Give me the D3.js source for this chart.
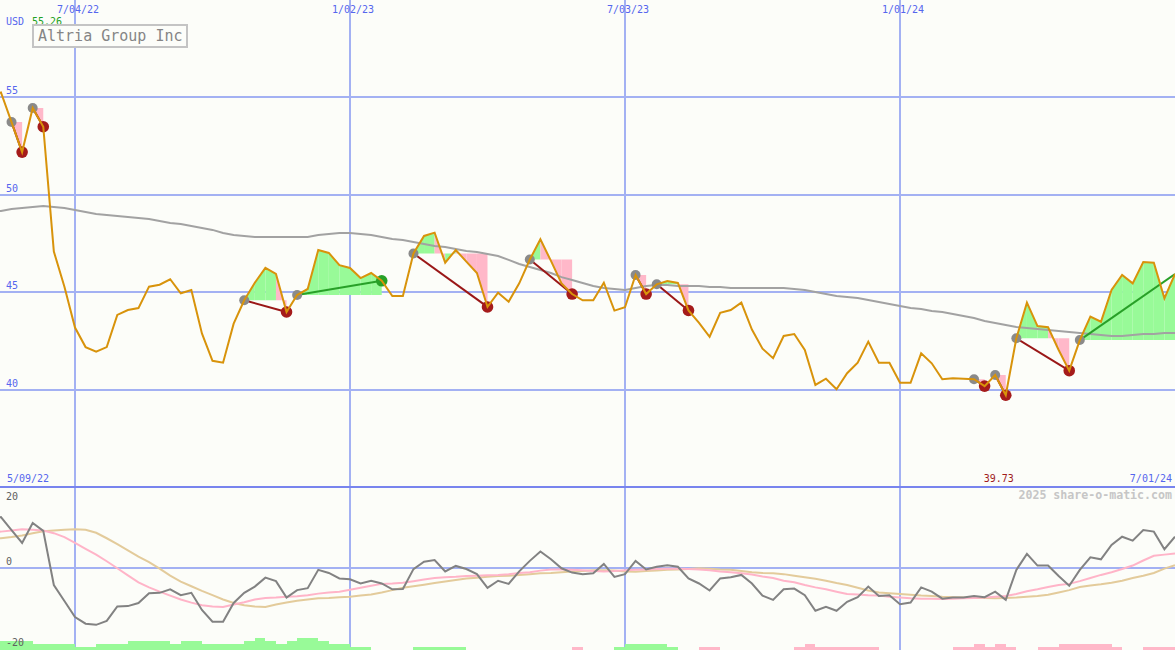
<!DOCTYPE html>
<html><head><meta charset="utf-8">
<script src="https://cdn.jsdelivr.net/npm/d3@7"></script>
<style>html,body{margin:0;padding:0;background:#fcfdf9;overflow:hidden}svg{display:block}</style>
</head><body><svg id="c" width="1175" height="650"></svg>
<script>
// ---------- data ----------
const startDate = "2022-05-09", endDate = "2024-07-01";   // weekly (Mondays)
const gridDates  = ["2022-07-04", "2023-01-02", "2023-07-03", "2024-01-01"];
const gridLabels = ["7/04/22", "1/02/23", "7/03/23", "1/01/24"];
const priceTicks = [55, 50, 45, 40];
const oscTicks   = [20, 0, -20];
const company = "Altria Group Inc";
const currency = "USD";
const copyright = "2025 share-o-matic.com";

const price = [
  55.1, 55.26, 53.74, 52.2, 54.46, 53.5, 47.1, 45.3, 43.2, 42.2,
  41.96, 42.2, 43.85, 44.1, 44.2, 45.3, 45.4, 45.68, 44.96, 45.13,
  42.9, 41.5, 41.4, 43.4, 44.6, 45.5, 46.26, 45.95, 44.0, 44.87,
  45.18, 47.18, 47.03, 46.4, 46.26, 45.74, 46.0, 45.6, 44.82, 44.82,
  47.0, 47.9, 48.07, 46.53, 47.18, 46.58, 46.0, 44.26, 44.99, 44.53,
  45.47, 46.69, 47.73, 46.62, 45.47, 44.92, 44.6, 44.6, 45.5, 44.07,
  44.24, 45.9, 44.92, 45.42, 45.59, 45.49, 44.08, 43.44, 42.73, 43.96,
  44.1, 44.48, 43.1, 42.12, 41.63, 42.77, 42.87, 42.05, 40.26, 40.58,
  40.04, 40.86, 41.4, 42.48, 41.4, 41.4, 40.37, 40.37, 41.88, 41.37,
  40.55, 40.6, 40.58, 40.55, 40.2, 40.77, 39.73, 42.65, 44.48, 43.28,
  43.22, 42.05, 40.99, 42.56, 43.76, 43.5, 45.13, 45.9, 45.47, 46.56,
  46.53, 44.7, 45.95
];
const movingAvg = [
  49.13, 49.18, 49.28, 49.33, 49.38, 49.44, 49.38, 49.33, 49.23, 49.13,
  49.03, 48.97, 48.92, 48.87, 48.82, 48.77, 48.67, 48.56, 48.51, 48.41,
  48.31, 48.21, 48.05, 47.95, 47.9, 47.85, 47.85, 47.85, 47.85, 47.85,
  47.85, 47.95, 48.0, 48.05, 48.05, 48.0, 47.95, 47.85, 47.74, 47.69,
  47.59, 47.49, 47.38, 47.33, 47.23, 47.13, 47.08, 46.97, 46.87, 46.67,
  46.46, 46.31, 46.15, 46.0, 45.79, 45.64, 45.49, 45.33, 45.23, 45.18,
  45.13, 45.23, 45.33, 45.38, 45.38, 45.33, 45.33, 45.33, 45.28, 45.28,
  45.23, 45.23, 45.23, 45.23, 45.23, 45.23, 45.18, 45.13, 45.03, 44.92,
  44.82, 44.77, 44.72, 44.62, 44.51, 44.41, 44.31, 44.21, 44.15, 44.05,
  44.0, 43.9, 43.79, 43.69, 43.54, 43.44, 43.33, 43.23, 43.18, 43.13,
  43.08, 43.03, 42.97, 42.92, 42.87, 42.82, 42.77, 42.77, 42.82, 42.87,
  42.87, 42.92, 42.92
];
const oscFast = [
  12.5, 12.9, 9.6, 6.3, 11.4, 9.4, -4.5, -8.6, -12.7, -14.4,
  -14.7, -13.7, -10.0, -9.9, -9.1, -6.6, -6.5, -5.6, -7.1, -6.5,
  -10.9, -13.9, -13.9, -9.1, -6.5, -4.9, -2.6, -3.5, -7.7, -5.8,
  -5.3, -0.6, -1.4, -2.8, -3.0, -4.1, -3.4, -4.1, -5.6, -5.5,
  -0.4, 1.5, 1.9, -1.0, 0.4, -0.4, -1.7, -5.2, -3.4, -4.2,
  -1.0, 1.7, 4.1, 2.1, -0.2, -1.3, -1.7, -1.5, 0.9, -2.4,
  -1.7, 1.7, -0.5, 0.2, 0.6, 0.2, -2.8, -4.1, -5.9, -2.8,
  -2.5, -1.9, -4.1, -7.2, -8.3, -5.6, -5.4, -7.1, -11.1, -10.1,
  -11.1, -8.8, -7.6, -4.9, -7.3, -7.1, -9.4, -9.0, -5.1, -6.2,
  -8.0, -7.7, -7.7, -7.3, -7.6, -6.2, -8.3, -0.6, 3.5, 0.5,
  0.5, -2.2, -4.7, -0.6, 2.6, 2.1, 5.8, 7.9, 6.9, 9.6,
  9.2, 4.7, 7.9
];
const oscSignal = [
  9.0, 9.2, 9.5, 9.8, 9.7, 9.5, 8.8, 7.8, 6.3, 4.8,
  3.3, 1.6, -0.2, -2.0, -3.8, -5.1, -6.2, -7.2, -8.2, -9.0,
  -9.7, -10.0, -10.1, -9.5, -8.9, -8.2, -7.8, -7.7, -7.5, -7.4,
  -7.1, -6.7, -6.4, -6.2, -5.7, -5.2, -4.7, -4.2, -4.1, -3.9,
  -3.5, -3.1, -2.7, -2.5, -2.4, -2.2, -2.1, -2.0, -1.9, -1.7,
  -1.4, -1.2, -0.8, -0.5, -0.5, -0.6, -0.7, -0.9, -1.0, -0.9,
  -0.7, -0.6, -0.5, -0.4, -0.3, -0.3, -0.4, -0.5, -0.7, -1.0,
  -1.2, -1.5, -1.8, -2.3, -2.7, -3.4, -3.8, -4.5, -5.1, -5.6,
  -6.2, -6.8, -6.9, -7.1, -7.2, -7.5, -7.7, -7.9, -8.0, -8.0,
  -8.1, -8.0, -7.9, -7.8, -7.7, -7.5, -7.3, -6.8, -6.1, -5.6,
  -5.0, -4.5, -4.2, -3.5, -2.7, -1.9, -1.2, -0.4, 0.5, 1.8,
  3.0, 3.3, 3.6
];
const oscSlow = [
  7.2, 7.5, 7.8, 8.2, 8.8, 9.3, 9.5, 9.7, 9.8, 9.7,
  8.9, 7.5, 6.0, 4.4, 2.8, 1.4, -0.3, -2.1, -3.6, -4.8,
  -6.0, -7.1, -8.2, -9.1, -9.7, -10.0, -10.1, -9.5, -9.0, -8.5,
  -8.2, -7.9, -7.8, -7.6, -7.5, -7.2, -6.9, -6.4, -5.8, -5.2,
  -4.8, -4.4, -4.0, -3.6, -3.2, -2.8, -2.6, -2.4, -2.2, -2.1,
  -1.9, -1.7, -1.5, -1.4, -1.2, -1.0, -0.9, -0.7, -0.7, -0.8,
  -1.0, -1.1, -0.9, -0.8, -0.6, -0.5, -0.4, -0.2, -0.3, -0.5,
  -0.6, -0.9, -1.2, -1.4, -1.5, -1.7, -2.1, -2.5, -2.9, -3.4,
  -4.0, -4.5, -5.2, -5.9, -6.4, -6.6, -6.8, -7.0, -7.2, -7.3,
  -7.5, -7.6, -7.7, -7.8, -7.8, -7.9, -7.8, -7.7, -7.5, -7.3,
  -7.0, -6.4, -5.8, -5.0, -4.6, -4.3, -3.9, -3.4, -2.7, -2.1,
  -1.4, -0.3, 0.6
];
const trendBars = [
  3, 3, 3, 3, 2, 2, 2, 2, 1, 1,
  2, 2, 2, 3, 3, 3, 3, 2, 3, 3,
  2, 2, 2, 2, 3, 4, 3, 2, 3, 4,
  4, 3, 2, 2, 1, 1, 0, 0, 0, 0,
  1, 1, 1, 1, 1, 0, 0, 0, 0, 0,
  0, 0, 0, 0, 0, -1, 0, 0, 0, 1,
  2, 2, 2, 2, 1, 0, 0, -1, -1, 0,
  0, 0, 0, 0, 0, 0, -1, -2, -1, -1,
  -1, -1, -1, -1, 0, 0, 0, 0, 0, 0,
  0, -1, -1, -2, -1, -2, -1, 0, 0, -1,
  -1, -2, -2, -2, -2, -2, -1, 0, 0, -1,
  -1, -1, 0
];
const tradeEntry = ["2022-05-23","2022-06-06","2022-10-24","2022-11-28","2023-02-13","2023-05-01","2023-07-10","2023-07-24","2024-02-19","2024-03-04","2024-03-18","2024-04-29"];
const tradeExit  = ["2022-05-30","2022-06-13","2022-11-21","2023-01-23","2023-04-03","2023-05-29","2023-07-17","2023-08-14","2024-02-26","2024-03-11","2024-04-22","2024-07-01"];
const tradeOpen  = [false,false,false,false,false,false,false,false,false,false,false,true];

// ---------- setup ----------
const parse = d3.utcParse("%Y-%m-%d");
const dates = d3.utcMonday.range(parse(startDate), d3.utcDay.offset(parse(endDate), 1));
const rows = dates.map((d, i) => ({date: d, price: price[i], ma: movingAvg[i], fast: oscFast[i], sig: oscSignal[i], slow: oscSlow[i], bar: trendBars[i]}));
const idx = s => d3.bisectLeft(dates.map(d => +d), +parse(s));

const W = 1175, H = 650, SPLIT = 487.5;
const x  = d3.scaleUtc().domain([parse(gridDates[0]), parse(gridDates[3])]).range([75, 900]);
const yP = d3.scaleLinear().domain([35, 60]).range([SPLIT, 0]);
const yO = d3.scaleLinear().domain([-20, 20]).range([645.5, 489.5]);
const yH = d3.scaleLinear().domain([0, 4]).range([650, 638]);

const C = {bg:"#fcfdf9", grid:"#a3b1f3", split:"#7884ee", label:"#5566ee",
  price:"#d8930b", ma:"#a2a2a2", green:"#98fa98", pink:"#ffb8c9",
  entry:"#8a8a8a", loss:"#a51b1b", win:"#27a127", lossLine:"#9a1717", winLine:"#28a028",
  fast:"#828282", sig:"#ffb4c8", slow:"#e3cb9b"};
const MONO = "'DejaVu Sans Mono', monospace";

const svg = d3.select("#c");
svg.append("rect").attr("width", W).attr("height", H).attr("fill", C.bg);
const defs = svg.append("defs");
defs.append("clipPath").attr("id","cp").append("rect").attr("x",0).attr("y",0).attr("width",W).attr("height",SPLIT);
defs.append("clipPath").attr("id","co").append("rect").attr("x",0).attr("y",SPLIT).attr("width",W).attr("height",H-SPLIT);

// ---------- grid ----------
const grid = svg.append("g").attr("shape-rendering","crispEdges");
grid.selectAll("line.h").data(priceTicks).join("line")
  .attr("x1",0).attr("x2",W).attr("y1",d=>Math.floor(yP(d))).attr("y2",d=>Math.floor(yP(d)))
  .attr("stroke",C.grid).attr("stroke-width",2);
grid.append("line").attr("x1",0).attr("x2",W).attr("y1",Math.round(yO(0))).attr("y2",Math.round(yO(0)))
  .attr("stroke",C.grid).attr("stroke-width",2);
grid.selectAll("line.v").data(gridDates).join("line")
  .attr("x1",d=>Math.round(x(parse(d)))).attr("x2",d=>Math.round(x(parse(d))))
  .attr("y1",0).attr("y2",H).attr("stroke",C.grid).attr("stroke-width",2);

// ---------- price panel ----------
const gp = svg.append("g").attr("clip-path","url(#cp)");
const trades = tradeEntry.map((e,i)=>{
  const a = idx(e), b = idx(tradeExit[i]);
  const level = price[a];
  return {a, b, level, win: price[b] > level, open: tradeOpen[i]};
});
// fills between price and entry level, week by week
const segArea = lvl => d3.area().x(d=>x(d.date)).y0(yP(lvl)).y1(d=>yP(d.price));
trades.forEach(t=>{
  for (let i=t.a; i<t.b; i++){
    const seg = [rows[i], rows[i+1]];
    gp.append("path").attr("d", segArea(t.level)(seg))
      .attr("fill", rows[i+1].price >= t.level ? C.green : C.pink)
      .attr("stroke","none");
  }
});
const lineP = d3.line().x(d=>x(d.date)).y(d=>yP(d.price));
const lineMA = d3.line().x(d=>x(d.date)).y(d=>yP(d.ma));
gp.append("path").attr("d", lineMA(rows)).attr("fill","none").attr("stroke",C.ma).attr("stroke-width",2);
trades.forEach(t=>{
  gp.append("path").attr("d", lineP([rows[t.a], rows[t.b]])).attr("fill","none")
    .attr("stroke", t.win ? C.winLine : C.lossLine).attr("stroke-width",2);
});
trades.forEach(t=>{
  gp.append("circle").attr("cx",x(dates[t.a])).attr("cy",yP(price[t.a])).attr("r",5).attr("fill",C.entry);
  if(!t.open) gp.append("circle").attr("cx",x(dates[t.b])).attr("cy",yP(price[t.b])).attr("r",5.8)
    .attr("fill", t.win ? C.win : C.loss);
});
gp.append("path").attr("d", lineP(rows)).attr("fill","none").attr("stroke",C.price).attr("stroke-width",2).attr("stroke-linejoin","miter");

// separator
svg.append("line").attr("x1",0).attr("x2",W).attr("y1",Math.floor(SPLIT)).attr("y2",Math.floor(SPLIT))
  .attr("stroke",C.split).attr("stroke-width",2).attr("shape-rendering","crispEdges");

// ---------- oscillator panel ----------
const go = svg.append("g").attr("clip-path","url(#co)");
go.append("g").attr("shape-rendering","crispEdges").selectAll("rect").data(rows.slice(0,-1).map((r,i)=>({r, next: rows[i+1]})).filter(d=>d.r.bar!==0)).join("rect")
  .attr("x", d=>x(d.r.date)).attr("width", d=>x(d.next.date)-x(d.r.date))
  .attr("y", d=>yH(Math.abs(d.r.bar))).attr("height", d=>650-yH(Math.abs(d.r.bar)))
  .attr("fill", d=>d.r.bar>0 ? C.green : C.pink);
const oscLine = key => d3.line().x(d=>x(d.date)).y(d=>yO(d[key]));
go.append("path").attr("d", oscLine("slow")(rows)).attr("fill","none").attr("stroke",C.slow).attr("stroke-width",2);
go.append("path").attr("d", oscLine("sig")(rows)).attr("fill","none").attr("stroke",C.sig).attr("stroke-width",2);
go.append("path").attr("d", oscLine("fast")(rows)).attr("fill","none").attr("stroke",C.fast).attr("stroke-width",2);

// ---------- text ----------
const txt = (s,xx,yy,opt={}) => svg.append("text").text(s).attr("x",xx).attr("y",yy)
  .attr("font-family",MONO).attr("font-size",opt.size||10).attr("fill",opt.fill||C.label)
  .attr("text-anchor",opt.anchor||"start").attr("font-weight",opt.weight||"normal");
gridDates.forEach((d,i)=>txt(gridLabels[i], x(parse(d))+3, 13, {anchor:"middle"}));
priceTicks.forEach(t=>txt(String(t), 6, Math.floor(yP(t))-3));
const hi = d3.max(price), lo = d3.min(price);
txt(currency, 6, 25);
txt(d3.format(".2f")(hi), 32, 25, {fill:"#22a022"});
svg.append("rect").attr("x",33).attr("y",25).attr("width",154).attr("height",22)
  .attr("fill",C.bg).attr("stroke","#c4c4c4").attr("stroke-width",2);
txt(company, 38, 41, {size:15, fill:"#858585"});
txt(d3.utcFormat("%-m/%d/%y")(dates[0]), 7, 482);
txt(d3.utcFormat("%-m/%d/%y")(dates[dates.length-1]), 1172, 482, {anchor:"end"});
txt(d3.format(".2f")(lo), x(dates[price.indexOf(lo)])-7, 482, {anchor:"middle", fill:"#a01c1c"});
txt(copyright, 1172, 499, {anchor:"end", size:11.6, fill:"#c6c6c6", weight:"bold"});
txt("20", 6, 500, {fill:"#606060"});
txt("0", 6, 565, {fill:"#606060"});
txt("-20", 6, 646, {fill:"#606060"});
</script>
</body></html>
